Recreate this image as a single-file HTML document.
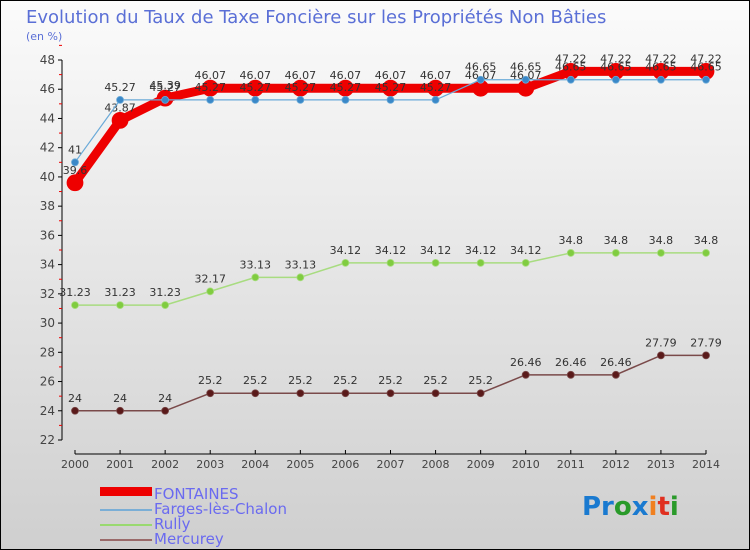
<!DOCTYPE html>
<html><head><meta charset="utf-8"><style>
body{margin:0;padding:0}
#c{width:750px;height:550px;position:relative;overflow:hidden}
svg text{font-family:"DejaVu Sans","Liberation Sans",sans-serif}
</style></head><body>
<div id="c">
<svg id="s" width="750" height="550" xmlns="http://www.w3.org/2000/svg">
<defs><linearGradient id="bg" x1="0" y1="0" x2="0" y2="1"><stop offset="0" stop-color="#fbfbfb"/><stop offset="1" stop-color="#cfcfcf"/></linearGradient></defs>
<rect x="0.5" y="0.5" width="749" height="549" fill="url(#bg)" stroke="#000"/>
<text x="26" y="23" font-size="18" fill="#5a6fd6">Evolution du Taux de Taxe Foncière sur les Propriétés Non Bâties</text>
<text x="26" y="40" font-size="11" fill="#5a6fd6">(en %)</text>
<g id="axes"></g><g id="series"></g>
<g>
<rect x="100" y="487" width="52" height="9" fill="#e00"/>
<text x="154" y="499" font-size="15" fill="#6a6af0">FONTAINES</text>
<line x1="100" y1="510" x2="152" y2="510" stroke="#7aaed6" stroke-width="2"/>
<text x="154" y="514" font-size="15" fill="#6a6af0">Farges-lès-Chalon</text>
<line x1="100" y1="525" x2="152" y2="525" stroke="#99d970" stroke-width="2"/>
<text x="154" y="529" font-size="15" fill="#6a6af0">Rully</text>
<line x1="100" y1="540" x2="152" y2="540" stroke="#9a6a6a" stroke-width="2"/>
<text x="154" y="544" font-size="15" fill="#6a6af0">Mercurey</text>
</g>
<g font-size="26" font-weight="bold">
<text x="582" y="515"><tspan fill="#1a7ad0">Pr</tspan><tspan fill="#2a9a2a">o</tspan><tspan fill="#1a7ad0">x</tspan><tspan fill="#f08020">i</tspan><tspan fill="#e03020">t</tspan><tspan fill="#2a9a2a">i</tspan></text>
</g>
</svg></div>
<script>
const years=[2000,2001,2002,2003,2004,2005,2006,2007,2008,2009,2010,2011,2012,2013,2014];
const fontaines=[39.6,43.87,45.39,46.07,46.07,46.07,46.07,46.07,46.07,46.07,46.07,47.22,47.22,47.22,47.22];
const farges=[41,45.27,45.27,45.27,45.27,45.27,45.27,45.27,45.27,46.65,46.65,46.65,46.65,46.65,46.65];
const rully=[31.23,31.23,31.23,32.17,33.13,33.13,34.12,34.12,34.12,34.12,34.12,34.8,34.8,34.8,34.8];
const mercurey=[24,24,24,25.2,25.2,25.2,25.2,25.2,25.2,25.2,26.46,26.46,26.46,27.79,27.79];
const yTicks=[22,24,26,28,30,32,34,36,38,40,42,44,46,48];
const NS="http://www.w3.org/2000/svg";
const X=i=>75+i*(706-75)/(years.length-1);
const Y=v=>440-(v-22)*(380/26);
function mk(tag,attrs,parent){const e=document.createElementNS(NS,tag);for(const k in attrs)e.setAttribute(k,attrs[k]);parent.appendChild(e);return e;}
const ax=document.getElementById('axes'),sg=document.getElementById('series');
let l=mk('line',{x1:62,y1:Y(48),x2:62,y2:Y(22),stroke:'#000'},ax);


l=mk('line',{x1:75,y1:454,x2:706,y2:454,stroke:'#000'},ax);


yTicks.forEach(v=>{
 mk('line',{x1:58,y1:Y(v),x2:62,y2:Y(v),stroke:'#000'},ax);
 mk('line',{x1:59,y1:Y(v+1),x2:62,y2:Y(v+1),stroke:'#e00'},ax);
 const t=mk('text',{x:55,y:Y(v)+4,'font-size':12,'text-anchor':'end',fill:'#444'},ax);t.textContent=v;
 
 
});
years.forEach((y,i)=>{
 mk('line',{x1:X(i),y1:450,x2:X(i),y2:454,stroke:'#000'},ax);
 const t=mk('text',{x:X(i),y:468,'font-size':11,'text-anchor':'middle',fill:'#444'},ax);t.textContent=y;
 
 
});
function series(data,name,color,w,r,fill){
 const g=mk('g',{},sg);
 
 
 mk('polyline',{points:data.map((v,i)=>X(i)+','+Y(v)).join(' '),fill:'none',stroke:color,'stroke-width':w,'stroke-linejoin':'round'},g);
 data.forEach((v,i)=>{
  const c=mk('circle',{cx:X(i),cy:Y(v),r:r,fill:fill,stroke:color,'stroke-width':0.8},g);
  
  
  const t=mk('text',{x:X(i),y:Y(v)-9,'font-size':11,'text-anchor':'middle',fill:'#333'},g);t.textContent=v;
  
  
 });
}
series(mercurey,'mercurey','#7a4a4a',1.5,3.5,'#5a1a1a');
series(rully,'rully','#a8dc80',1.5,3.5,'#80cc40');
series(fontaines,'fontaines','#ee0000',9,8,'#ee0000');
series(farges,'farges','#6aaad8',1.2,3.5,'#3a88c8');
</script>
</body></html>
